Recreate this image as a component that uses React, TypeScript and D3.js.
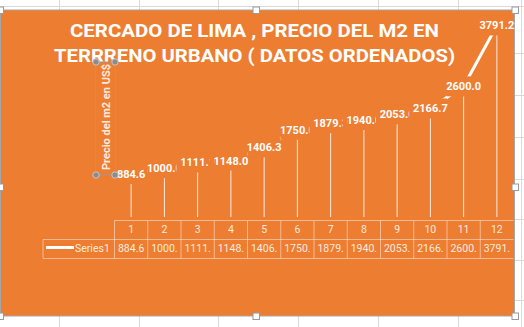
import React from 'react';
import * as d3 from 'd3';

const categories = ['1', '2', '3', '4', '5', '6', '7', '8', '9', '10', '11', '12'];
const values = [884.6, 1000.0, 1111.1, 1148.0, 1406.3, 1750.0, 1879.3, 1940.0, 2053.0, 2166.7, 2600.0, 3791.2];
const clippedLabels = [false, true, true, false, false, true, true, true, true, false, false, false];
const seriesName = 'Series1';
const titleLines = ['CERCADO DE LIMA , PRECIO DEL M2 EN', 'TERRRENO URBANO ( DATOS ORDENADOS)'];
const axisTitle = 'Precio del m2 en US$';

const W = 524;
const H = 327;
const ORANGE = '#ED7D31';
const CREAM = '#FDEADF';
const GRID = '#D9D9D9';
const FONT = 'Roboto, "Noto Sans", sans-serif';

export default function App() {
  const x = d3.scaleBand<string>().domain(categories).range([114.5, 513.5]).padding(0);
  const y = d3.scaleLinear().domain([0, 4000]).range([219.2, 14.8]);
  const bw = x.bandwidth();
  const cx = (i: number) => (x(categories[i]) as number) + bw / 2;

  const line = d3
    .line<number>()
    .x((_, i) => cx(i))
    .y((d) => y(d));

  const tableTop = 220.5;
  const rowMid = 239.5;
  const tableBottom = 258.5;
  const tableLeft = 43;
  const tableRight = 513.5;
  const lineColor = 'rgba(255,235,220,0.55)';

  const sheetVerticals = [59.5, 139.5, 218.5, 298.5, 378.5, 458.5, 521.5];
  const sheetHorizontals = [6.5, 53.5, 95.5, 137.5, 179.5, 219.5, 260.5, 300.5];

  const handles = [
    [0, 10], [256, 10], [515, 10],
    [0, 187], [515, 187],
    [0, 316], [256, 316], [515, 316],
  ];

  return (
    <svg
      width={W}
      height={H}
      style={{ position: 'fixed', left: 0, top: 0, display: 'block' }}
      xmlns="http://www.w3.org/2000/svg"
    >
      <defs>
        {values.map((v, i) => (
          <clipPath id={`lc${i}`} key={i}>
            <rect x={cx(i) - 20} y={y(v) - 12} width={clippedLabels[i] ? 32 : 40} height={24} />
          </clipPath>
        ))}
        {values.map((v, i) => (
          <clipPath id={`tc${i}`} key={i}>
            <rect x={x(categories[i]) as number} y={rowMid} width={bw} height={tableBottom - rowMid} />
          </clipPath>
        ))}
      </defs>

      {/* spreadsheet background */}
      <rect x={0} y={0} width={W} height={H} fill="#FFFFFF" />
      {sheetVerticals.map((gx, i) => (
        <line key={`sv${i}`} x1={gx} x2={gx} y1={0} y2={H} stroke={GRID} strokeWidth={1} />
      ))}
      {sheetHorizontals.map((gy, i) => (
        <line key={`sh${i}`} x1={0} x2={W} y1={gy} y2={gy} stroke={GRID} strokeWidth={1} />
      ))}

      {/* chart area */}
      <rect x={0.5} y={10} width={514} height={306} fill={ORANGE} stroke="#A6A6A6" strokeWidth={1} />

      {/* title */}
      <text
        x={254.5}
        y={37}
        textAnchor="middle"
        fontFamily={FONT}
        fontWeight={700}
        fontSize={18}
        fill="#FFFFFF"
        textLength={369}
        lengthAdjust="spacingAndGlyphs"
      >
        {titleLines[0]}
      </text>
      <text
        x={254.5}
        y={62}
        textAnchor="middle"
        fontFamily={FONT}
        fontWeight={700}
        fontSize={18}
        fill="#FFFFFF"
        textLength={401}
        lengthAdjust="spacingAndGlyphs"
      >
        {titleLines[1]}
      </text>

      {/* series line */}
      <path d={line(values) || ''} fill="none" stroke="#FFFFFF" strokeWidth={3} strokeLinejoin="round" />

      {/* drop lines */}
      {values.map((v, i) => (
        <line
          key={`dl${i}`}
          x1={cx(i)}
          x2={cx(i)}
          y1={y(v)}
          y2={217}
          stroke="rgba(255,255,255,0.85)"
          strokeWidth={1}
        />
      ))}

      {/* data label boxes and text */}
      {values.map((v, i) => (
        <rect key={`lb${i}`} x={cx(i) - bw / 2} y={y(v) - 10} width={bw} height={20} fill={ORANGE} />
      ))}
      {values.map((v, i) => (
        <text
          key={`lt${i}`}
          x={cx(i)}
          y={y(v) + 4}
          textAnchor="middle"
          fontFamily={FONT}
          fontWeight={700}
          fontSize={11}
          fill="#FFFFFF"
          clipPath={`url(#lc${i})`}
        >
          {v.toFixed(1)}
        </text>
      ))}

      {/* axis title (selected) */}
      <rect x={95.5} y={62} width={20} height={113} fill="none" stroke="#9A9A9A" strokeWidth={1} />
      <text
        transform={`translate(109.5,117) rotate(-90)`}
        textAnchor="middle"
        fontFamily={FONT}
        fontWeight={700}
        fontSize={11}
        fill={CREAM}
      >
        {axisTitle}
      </text>
      {[
        [96, 62], [115, 62], [96, 175], [115, 175],
      ].map(([hx, hy], i) => (
        <circle key={`ah${i}`} cx={hx} cy={hy} r={3.2} fill="#8C8C8C" stroke="#C8C8C8" strokeWidth={1} />
      ))}

      {/* data table */}
      <line x1={x('1') as number} x2={tableRight} y1={tableTop} y2={tableTop} stroke={lineColor} />
      <line x1={tableLeft} x2={tableRight} y1={rowMid} y2={rowMid} stroke={lineColor} />
      <line x1={tableLeft} x2={tableRight} y1={tableBottom} y2={tableBottom} stroke={lineColor} />
      <line x1={tableLeft} x2={tableLeft} y1={rowMid} y2={tableBottom} stroke={lineColor} />
      {categories.map((c, i) => (
        <line
          key={`tv${i}`}
          x1={x(c) as number}
          x2={x(c) as number}
          y1={tableTop}
          y2={tableBottom}
          stroke={lineColor}
        />
      ))}
      {categories.map((c, i) => (
        <text
          key={`th${i}`}
          x={cx(i)}
          y={233}
          textAnchor="middle"
          fontFamily={FONT}
          fontSize={10.5}
          fill={CREAM}
        >
          {c}
        </text>
      ))}
      {values.map((v, i) => (
        <text
          key={`tvv${i}`}
          x={cx(i)}
          y={251.5}
          textAnchor="middle"
          fontFamily={FONT}
          fontSize={10.5}
          fill={CREAM}
          clipPath={`url(#tc${i})`}
        >
          {v.toFixed(1).slice(0, 5)}
        </text>
      ))}
      <line x1={46} x2={74} y1={247.5} y2={247.5} stroke="#FFFFFF" strokeWidth={3} />
      <text x={75} y={251.5} fontFamily={FONT} fontSize={10.5} fill={CREAM}>
        {seriesName}
      </text>

      {/* selection handles */}
      {handles.map(([hx, hy], i) => (
        <rect
          key={`h${i}`}
          x={hx - 3}
          y={hy - 3}
          width={6.5}
          height={6.5}
          fill="#FFFFFF"
          stroke="#9A9A9A"
          strokeWidth={1}
        />
      ))}
    </svg>
  );
}
